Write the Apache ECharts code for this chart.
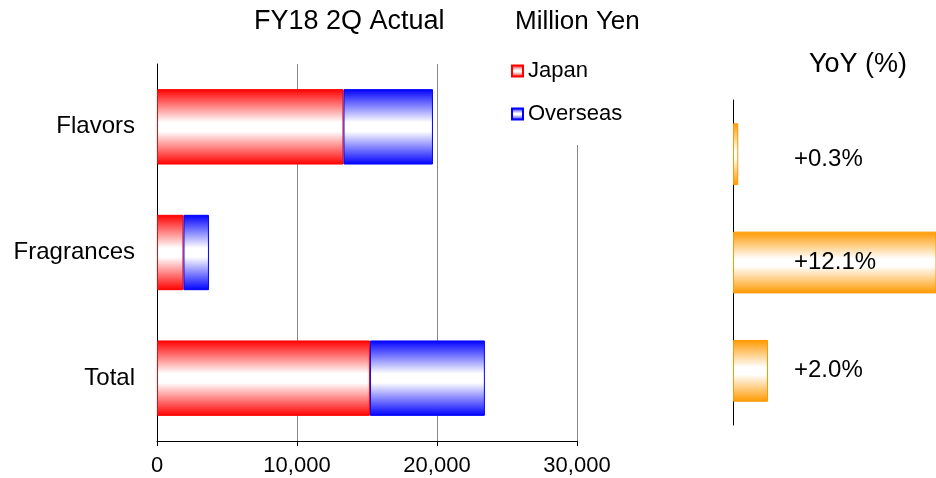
<!DOCTYPE html>
<html>
<head>
<meta charset="utf-8">
<script src="https://cdn.jsdelivr.net/npm/echarts@6/dist/echarts.min.js"></script>
<style>
  html, body { margin: 0; padding: 0; background: #fff; }
  #chart { width: 936px; height: 478px; }
</style>
</head>
<body>
<div id="chart"></div>
<script>
const categories = ["Flavors", "Fragrances", "Total"];
const japan = [13320, 1890, 15210];
const overseas = [6390, 1820, 8210];
const yoy = [0.3, 12.1, 2.0];
const xTicks = [0, 10000, 20000, 30000];

const FONT = "Liberation Sans, Arial, sans-serif";

// vertical colour -> white -> colour fill, like the original office chart
function shade(c) {
  return new echarts.graphic.LinearGradient(0, 0, 0, 1, [
    { offset: 0, color: c },
    { offset: 0.44, color: "#ffffff" },
    { offset: 0.56, color: "#ffffff" },
    { offset: 1, color: c },
  ]);
}

const chart = echarts.init(document.getElementById("chart"));

chart.setOption({
  animation: false,
  textStyle: { fontFamily: FONT, color: "#000" },
  title: [
    { text: "FY18 2Q Actual", left: 254, top: 8, padding: 0,
      textStyle: { fontFamily: FONT, fontSize: 27, fontWeight: "normal", color: "#000" } },
    { text: "Million Yen", left: 515, top: 9, padding: 0,
      textStyle: { fontFamily: FONT, fontSize: 26, fontWeight: "normal", color: "#000" } },
    { text: "YoY (%)", left: 809, top: 51, padding: 0,
      textStyle: { fontFamily: FONT, fontSize: 27, fontWeight: "normal", color: "#000" } },
  ],
  legend: {
    data: ["Japan", "Overseas"],
    orient: "vertical",
    left: 506,
    top: 55,
    padding: [5, 20, 20, 5],
    itemGap: 21,
    itemWidth: 11,
    itemHeight: 11,
    icon: "rect",
    backgroundColor: "#fff",
    textStyle: { fontFamily: FONT, fontSize: 22, color: "#000" },
  },
  grid: [
    { left: 157, right: 359, top: 64, bottom: 37 },
    { left: 733, right: 0, top: 100, height: 325 },
  ],
  xAxis: [
    {
      gridIndex: 0,
      type: "value",
      min: xTicks[0],
      max: xTicks[xTicks.length - 1],
      interval: xTicks[1] - xTicks[0],
      axisLine: { show: true, lineStyle: { color: "#000", width: 1 } },
      axisTick: { show: true, length: 5, lineStyle: { color: "#000" } },
      axisLabel: {
        margin: 14,
        fontSize: 22,
        color: "#000",
        fontFamily: FONT,
        formatter: (v) => v.toLocaleString("en-US"),
      },
      splitLine: { show: true, lineStyle: { color: "#888", width: 1 } },
    },
    {
      gridIndex: 1,
      type: "value",
      min: 0,
      max: 11.6,
      show: false,
    },
  ],
  yAxis: [
    {
      gridIndex: 0,
      type: "category",
      data: categories,
      inverse: true,
      axisLine: { show: true, lineStyle: { color: "#000", width: 1 } },
      axisTick: { show: false },
      axisLabel: { margin: 22, fontSize: 24, color: "#000", fontFamily: FONT },
    },
    {
      gridIndex: 1,
      type: "category",
      data: categories,
      inverse: true,
      axisLine: { show: true, lineStyle: { color: "#000", width: 1 } },
      axisTick: { show: false },
      axisLabel: { show: false },
    },
  ],
  series: [
    {
      name: "Japan",
      type: "bar",
      stack: "total",
      xAxisIndex: 0,
      yAxisIndex: 0,
      barCategoryGap: "40%",
      data: japan,
      itemStyle: { color: shade("#ff0000"), borderColor: "#ff0000", borderWidth: 1 },
      emphasis: { disabled: true },
    },
    {
      name: "Overseas",
      type: "bar",
      stack: "total",
      xAxisIndex: 0,
      yAxisIndex: 0,
      barCategoryGap: "40%",
      data: overseas,
      itemStyle: { color: shade("#0000ff"), borderColor: "#0000ff", borderWidth: 1 },
      emphasis: { disabled: true },
    },
    {
      name: "YoY",
      type: "bar",
      xAxisIndex: 1,
      yAxisIndex: 1,
      barCategoryGap: "43%",
      data: yoy,
      clip: true,
      itemStyle: { color: shade("#ff9900"), borderColor: "#ff9900", borderWidth: 1 },
      label: {
        show: true,
        position: [61, "50%"],
        verticalAlign: "middle",
        fontSize: 24,
        fontFamily: FONT,
        color: "#000",
        formatter: (p) => "+" + p.value.toFixed(1) + "%",
      },
      // the first label sits a little below its bar in the original
      labelLayout: (p) => (p.dataIndex === 0 ? { dy: 5 } : {}),
      emphasis: { disabled: true },
    },
  ],
});
</script>
</body>
</html>
